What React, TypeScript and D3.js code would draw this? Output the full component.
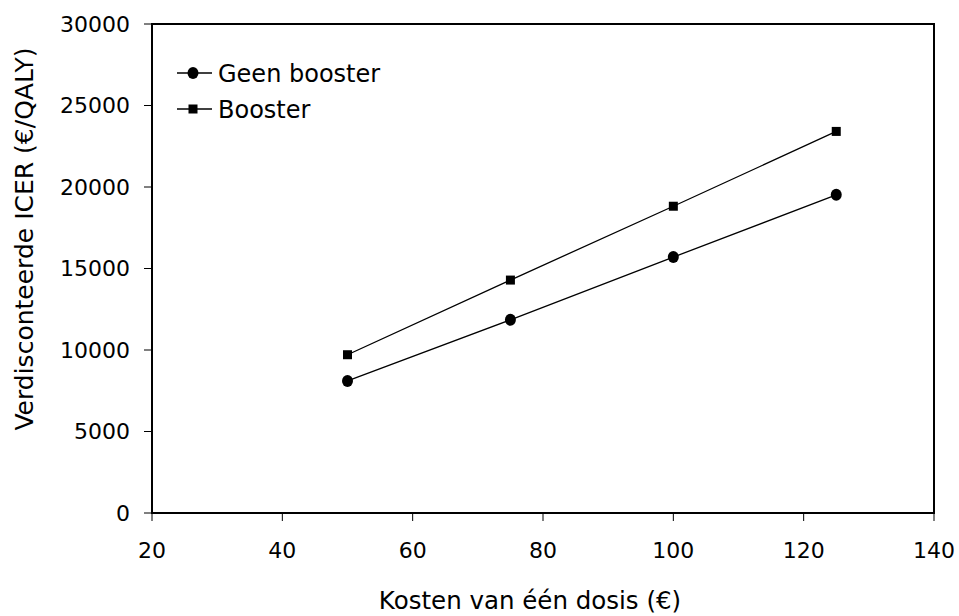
import * as d3 from "d3";

const doses = [50, 75, 100, 125];
const geenBooster = [8100, 11850, 15700, 19520];
const booster = [9710, 14290, 18820, 23410];

const xTicks = [20, 40, 60, 80, 100, 120, 140];
const yTicks = [0, 5000, 10000, 15000, 20000, 25000, 30000];

const series = [
  { name: "Geen booster", values: geenBooster, shape: "circle" },
  { name: "Booster", values: booster, shape: "square" },
];

const W = 959;
const H = 616;
const m = { top: 24, right: 25, bottom: 103, left: 152 };
const font = "'DejaVu Sans', Verdana, sans-serif";

function Marker({ x, y, shape }: { x: number; y: number; shape: string }) {
  if (shape === "circle") return <ellipse cx={x} cy={y} rx={5.5} ry={6} fill="#000" />;
  return <rect x={x - 4.5} y={y - 4.5} width={9} height={9} fill="#000" />;
}

export default function App() {
  const xScale = d3.scaleLinear().domain([20, 140]).range([m.left, W - m.right]);
  const yScale = d3.scaleLinear().domain([0, 30000]).range([H - m.bottom, m.top]);

  const line = d3
    .line<number>()
    .x((_, i) => xScale(doses[i]))
    .y((d) => yScale(d));

  const [x0, x1] = xScale.range();
  const [y0, y1] = yScale.range();

  return (
    <svg
      width={W}
      height={H}
      style={{ position: "absolute", left: 0, top: 0, background: "#fff" }}
      fontFamily={font}
    >
      {/* frame */}
      <rect x={x0} y={y1} width={x1 - x0} height={y0 - y1} fill="none" stroke="#000" strokeWidth={2} />

      {/* y axis */}
      {yTicks.map((t) => (
        <g key={t} transform={`translate(0,${yScale(t)})`}>
          <line x1={x0 - 8} x2={x0} stroke="#000" strokeWidth={1} />
          <text x={x0 - 22} dy="0.36em" textAnchor="end" fontSize={22}>
            {t}
          </text>
        </g>
      ))}

      {/* x axis */}
      {xTicks.map((t) => (
        <g key={t} transform={`translate(${xScale(t)},0)`}>
          <line y1={y0} y2={y0 + 8} stroke="#000" strokeWidth={1} />
          <text y={y0 + 45} textAnchor="middle" fontSize={22}>
            {t}
          </text>
        </g>
      ))}

      {/* series */}
      {series.map((s) => (
        <g key={s.name}>
          <path d={line(s.values)!} fill="none" stroke="#000" strokeWidth={1.3} />
          {s.values.map((v, i) => (
            <Marker key={i} x={xScale(doses[i])} y={yScale(v)} shape={s.shape} />
          ))}
        </g>
      ))}

      {/* legend */}
      {series.map((s, i) => {
        const ly = 73 + i * 36;
        return (
          <g key={s.name}>
            <line x1={177} x2={212} y1={ly} y2={ly} stroke="#000" strokeWidth={1.3} />
            <Marker x={193} y={ly} shape={s.shape} />
            <text x={218} y={ly} dy="0.36em" fontSize={24}>
              {s.name}
            </text>
          </g>
        );
      })}

      {/* axis titles */}
      <text x={530} y={609} textAnchor="middle" fontSize={24.5}>
        Kosten van één dosis (€)
      </text>
      <text transform="translate(33,239) rotate(-90)" textAnchor="middle" fontSize={25}>
        Verdisconteerde ICER (€/QALY)
      </text>
    </svg>
  );
}
